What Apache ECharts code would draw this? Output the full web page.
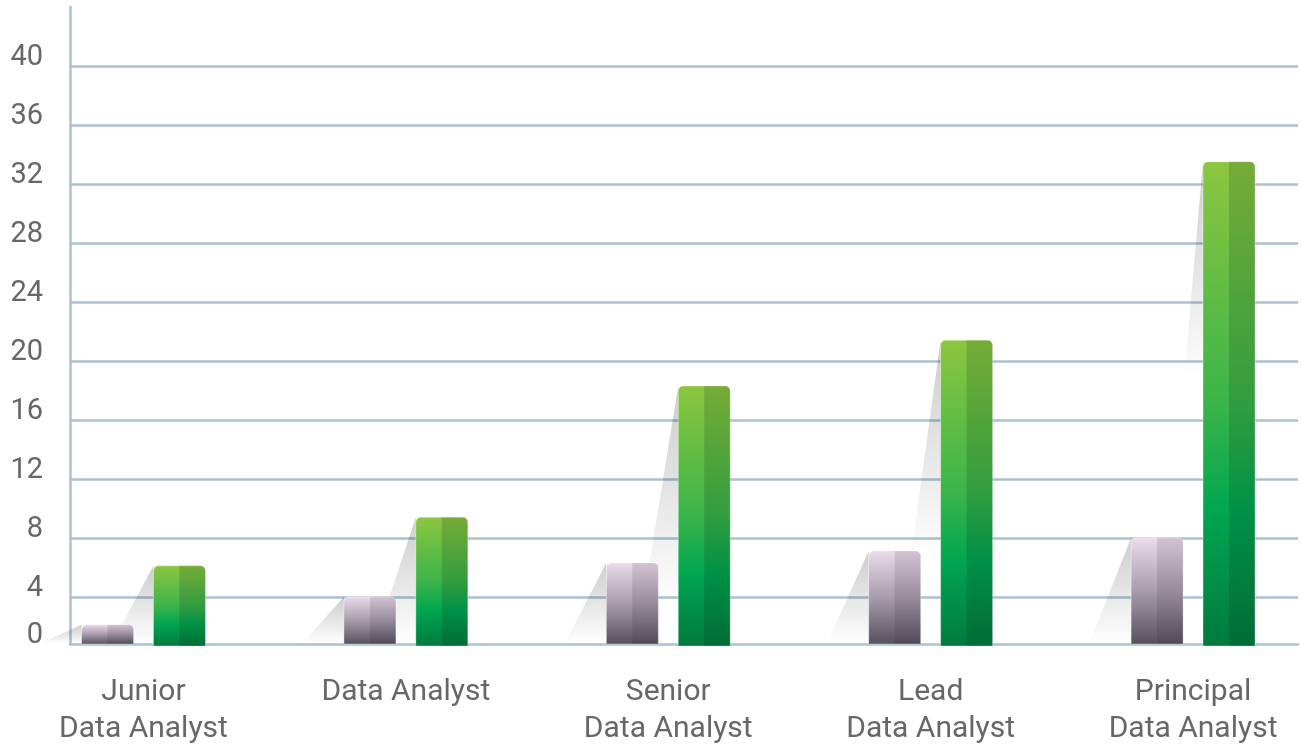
<!DOCTYPE html>
<html><head><meta charset="utf-8">
<script src="https://cdn.jsdelivr.net/npm/echarts@6/dist/echarts.min.js"></script>
<style>html,body{margin:0;padding:0;background:#fff}#chart{width:1301px;height:751px}</style>
</head><body><div id="chart"></div>
<script>
// ---- data ----
const categories = ['Junior\nData Analyst', 'Data Analyst', 'Senior\nData Analyst', 'Lead\nData Analyst', 'Principal\nData Analyst'];
const greyValues = [2.1, 4.0, 6.3, 7.1, 8.0];
const greenValues = [6.1, 9.4, 18.3, 21.4, 33.5];
const yTickValues = [4, 8, 12, 16, 20, 24, 28, 32, 36, 40];
const yTickLabels = ['4', '8', '12', '16', '20', '24', '28', '32', '36', '40'];
const baselineValue = 0.8;   // value sitting on the x axis (labelled "0" in the source)
const baselineLabel = '0';

const AXIS = '#a9c2d1';
const TEXT = '#676767';

const greyStops = [
  {offset: 0, color: '#ecdcec'}, {offset: 0.5, color: '#a79bac'}, {offset: 1, color: '#55505d'}
];
const greenStops = [
  {offset: 0, color: '#8dc63f'}, {offset: 0.5, color: '#3bb44a'}, {offset: 0.72, color: '#00a651'}, {offset: 1, color: '#007a3d'}
];

function makeRender(kind) {
  return function (params, api) {
    const idx = api.value(0), v = api.value(1);
    const unit = api.size([1, 0])[0];
    const w = unit * 0.198;
    const off = (kind === 'grey' ? -1 : 1) * unit * 0.137;
    const cs = params.coordSys;
    const baseY = cs.y + cs.height;
    const c = api.coord([idx, v]);
    const x0 = c[0] + off - w / 2;
    const yTop = c[1];
    const h = baseY - yTop + (kind === 'green' ? 2 : 0);
    const fade = Math.min(baseY - yTop, 220);
    return {
      type: 'group',
      children: [
        {
          type: 'polygon',
          shape: {points: [[x0, yTop], [x0 - 42, baseY], [x0, baseY]]},
          style: {fill: new echarts.graphic.LinearGradient(x0, yTop, x0, yTop + fade, [
            {offset: 0, color: 'rgba(0,0,0,0.2)'}, {offset: 1, color: 'rgba(0,0,0,0)'}
          ], true)}
        },
        {
          type: 'rect',
          shape: {x: x0, y: yTop, width: w, height: h, r: [5, 5, 0, 0]},
          style: {fill: {type: 'linear', x: 0, y: 0, x2: 0, y2: 1, colorStops: kind === 'grey' ? greyStops : greenStops},
                  stroke: 'rgba(255,255,255,0.35)', lineWidth: 1}
        },
        {
          type: 'rect',
          shape: {x: x0 + w / 2, y: yTop, width: w / 2, height: h, r: [0, 5, 0, 0]},
          style: {fill: kind === 'grey' ? 'rgba(40,25,45,0.12)' : 'rgba(0,40,10,0.16)'}
        }
      ]
    };
  };
}

const chart = echarts.init(document.getElementById('chart'), null, {renderer: 'canvas'});
chart.setOption({
  animation: false,
  backgroundColor: '#ffffff',
  grid: {left: 70, right: 3, top: 7, bottom: 107, containLabel: false},
  xAxis: {
    type: 'value', min: -0.28, max: 4.4,
    axisLine: {show: true, onZero: false, lineStyle: {color: AXIS, width: 2.5}},
    axisTick: {show: false, customValues: [0, 1, 2, 3, 4]},
    splitLine: {show: false},
    axisLabel: {
      customValues: [0, 1, 2, 3, 4],
      formatter: v => categories[Math.round(v)],
      color: TEXT, fontFamily: 'Roboto', fontSize: 30, lineHeight: 37, margin: 30, align: 'center'
    }
  },
  yAxis: {
    type: 'value', min: baselineValue, max: 44,
    axisLine: {show: true, onZero: false, lineStyle: {color: AXIS, width: 2.5}},
    axisTick: {show: false, customValues: yTickValues},
    splitLine: {show: true, lineStyle: {color: AXIS, width: 2.5}},
    axisLabel: {
      customValues: [baselineValue].concat(yTickValues),
      formatter: v => v === baselineValue ? baselineLabel : yTickLabels[yTickValues.indexOf(v)],
      color: TEXT, fontFamily: 'Roboto', fontSize: 29, margin: 27,
      verticalAlign: 'bottom', lineHeight: 16
    }
  },
  series: [
    {type: 'custom', name: 'green', renderItem: makeRender('green'), data: greenValues.map((v, i) => [i, v]), z: 2},
    {type: 'custom', name: 'grey', renderItem: makeRender('grey'), data: greyValues.map((v, i) => [i, v]), z: 3}
  ]
});
</script>
</body></html>
